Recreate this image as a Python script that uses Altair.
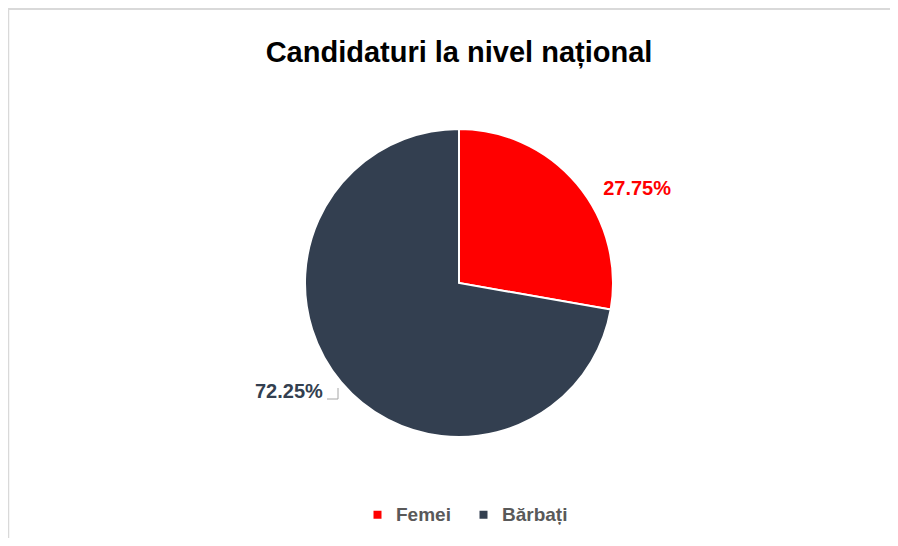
import altair as alt
import pandas as pd

title_text = "Candidaturi la nivel național"
categories = ["Femei", "Bărbați"]
values = [27.75, 72.25]
labels = ["27.75%", "72.25%"]
colors = ["#FF0000", "#333F50"]

df = pd.DataFrame({"cat": categories, "value": values, "label": labels, "ord": [0, 1]})

W, H = 882, 530
CX, CY, R = 451, 275, 154
FONT = "Liberation Sans"

theta_scale = alt.Scale(domain=[0, 100], range=[0, 6.283185307179586])

base = alt.Chart(df).transform_window(
    end="sum(value)", sort=[alt.SortField("ord")], frame=[None, 0]
).transform_calculate(
    start="datum.end - datum.value",
    mid="datum.end - datum.value / 2",
)

pie = base.mark_arc(outerRadius=R, stroke="white", strokeWidth=2).encode(
    theta=alt.Theta("start:Q", scale=theta_scale),
    theta2="end:Q",
    x=alt.value(CX), y=alt.value(CY),
    color=alt.Color(
        "cat:N",
        scale=alt.Scale(domain=categories, range=colors),
        sort=categories,
        legend=alt.Legend(
            orient="none", direction="horizontal", legendX=360, legendY=497,
            title=None, symbolType="square", symbolSize=64, symbolStrokeWidth=0,
            labelFont=FONT, labelFontSize=19, labelFontWeight="bold",
            labelColor="#595959", labelOffset=9, columnPadding=23, padding=0,
        ),
    ),
)

def lab(cat, color, dx, dy):
    return base.transform_filter(alt.datum.cat == cat).mark_text(
        radius=200, font=FONT, fontSize=20, fontWeight="bold", color=color,
        align="center", baseline="middle", dx=dx, dy=dy,
    ).encode(
        theta=alt.Theta("mid:Q", scale=theta_scale),
        x=alt.value(CX), y=alt.value(CY), text="label:N",
    )

lab_f = lab("Femei", colors[0], 25, 35)
lab_b = lab("Bărbați", colors[1], -17, -20)

one = alt.Data(values=[{}])
title = alt.Chart(one).mark_text(
    text=title_text, font=FONT, fontSize=29, fontWeight="bold", color="#000000",
    align="center", baseline="alphabetic",
).encode(x=alt.value(CX), y=alt.value(54))

lead_h = alt.Chart(one).mark_rule(color="#A6A6A6", strokeWidth=1).encode(
    x=alt.value(319), x2=alt.value(330), y=alt.value(391))
lead_v = alt.Chart(one).mark_rule(color="#A6A6A6", strokeWidth=1).encode(
    x=alt.value(330), y=alt.value(380), y2=alt.value(391))

border_top = alt.Chart(one).mark_rule(color="#D9D9D9", strokeWidth=2).encode(
    x=alt.value(0), x2=alt.value(W), y=alt.value(1))
border_left = alt.Chart(one).mark_rule(color="#D9D9D9", strokeWidth=1.5).encode(
    x=alt.value(0.5), y=alt.value(0), y2=alt.value(H))

chart = alt.layer(
    border_top, border_left, pie, lab_f, lab_b, lead_h, lead_v, title
).properties(
    width=W, height=H, padding=0, autosize=alt.AutoSizeParams(type="none"),
    background="white",
).configure_view(stroke=None)

chart.save("out.html", embed_options={"renderer": "svg", "actions": False})
